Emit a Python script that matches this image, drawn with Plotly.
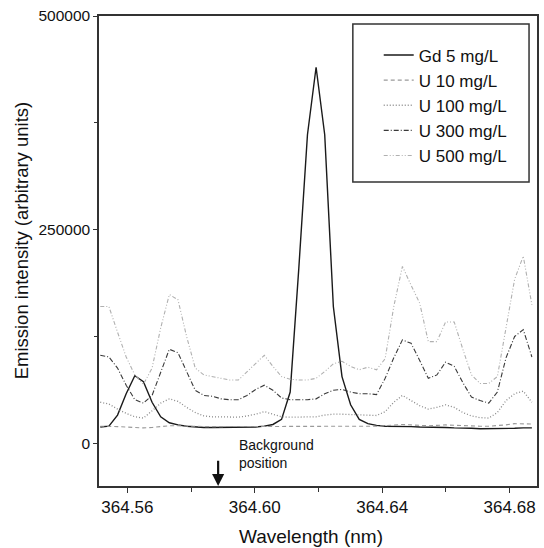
import plotly.graph_objects as go

wavelength = [364.55150, 364.55421, 364.55692, 364.55963, 364.56234, 364.56505, 364.56776,
              364.57047, 364.57318, 364.57589, 364.57860, 364.58131, 364.58402, 364.58673,
              364.58944, 364.59215, 364.59486, 364.59757, 364.60028, 364.60299, 364.60570,
              364.60841, 364.61112, 364.61383, 364.61654, 364.61925, 364.62196, 364.62467,
              364.62738, 364.63009, 364.63280, 364.63551, 364.63822, 364.64093, 364.64364,
              364.64635, 364.64906, 364.65177, 364.65448, 364.65719, 364.65990, 364.66261,
              364.66532, 364.66803, 364.67074, 364.67345, 364.67616, 364.67887, 364.68158,
              364.68429, 364.68700]

gd_5 = [19000, 20000, 33000, 58000, 79000, 72000, 48000, 31000, 24000, 21500, 20000,
        19000, 18500, 18500, 18500, 18500, 18500, 18500, 19000, 20000, 22000, 28000,
        60000, 205000, 361000, 440000, 361000, 160000, 78000, 45000, 28000, 23000, 21000,
        20000, 20000, 19500, 19500, 19000, 19000, 18500, 18500, 18000, 18000, 17500,
        17000, 17000, 17000, 17000, 17500, 18000, 18000]

u_10 = [20000, 20000, 19500, 19000, 18500, 18000, 18500, 19500, 20500, 20500, 20000,
        19500, 19500, 19500, 19500, 19500, 19500, 19500, 19500, 20000, 20000, 19500,
        19500, 19500, 19500, 19500, 19500, 19500, 20000, 20000, 20000, 20000, 20000,
        20500, 21500, 22000, 21500, 21000, 20500, 21000, 21500, 21000, 20500, 20000,
        20000, 20000, 20500, 21500, 23000, 23000, 22500]

u_100 = [48000, 46000, 40000, 35000, 31000, 29500, 38000, 47000, 52000, 49000, 42000,
         36000, 32000, 31000, 31000, 30500, 30500, 32000, 34000, 37000, 34000, 31000,
         30500, 30500, 30500, 31000, 33000, 34000, 34000, 33500, 33000, 32500, 32500,
         37000, 48000, 56000, 50000, 44000, 40000, 42000, 45000, 42000, 36000, 32000,
         30000, 29500, 36000, 50000, 58000, 61000, 48000]

u_300 = [103000, 101000, 88000, 68000, 51000, 47000, 56000, 84000, 110000, 106000, 84000,
         62000, 56000, 55000, 52000, 51000, 51000, 56000, 63000, 68000, 62000, 53000,
         51000, 51000, 51000, 52000, 58000, 62000, 63000, 60000, 58000, 58000, 57000,
         76000, 100000, 121000, 117000, 97000, 76000, 80000, 95000, 90000, 71000, 54000,
         50000, 47000, 60000, 100000, 125000, 133000, 101000]

u_500 = [160000, 160000, 130000, 101000, 80000, 69000, 88000, 135000, 174000, 168000, 125000,
         88000, 80000, 78000, 76000, 74000, 74000, 84000, 94000, 103000, 90000, 78000,
         75000, 74000, 74000, 76000, 84000, 93000, 96000, 90000, 86000, 89000, 86000,
         99000, 160000, 207000, 185000, 164000, 119000, 119000, 142000, 142000, 110000, 80000,
         70000, 70000, 78000, 135000, 192000, 219000, 162000]

series_names = ["Gd 5 mg/L", "U 10 mg/L", "U 100 mg/L", "U 300 mg/L", "U 500 mg/L"]
series_values = [gd_5, u_10, u_100, u_300, u_500]

y_tick_values = [0, 250000, 500000]
y_tick_labels = ["0", "250000", "500000"]
x_tick_values = [364.56, 364.60, 364.64, 364.68]
x_tick_labels = ["364.56", "364.60", "364.64", "364.68"]

styles = [
    dict(color="#1a1a1a", width=1.4, dash="solid"),
    dict(color="#9a9a9a", width=1.1, dash="4px,3px"),
    dict(color="#8a8a8a", width=1.3, dash="1px,2px"),
    dict(color="#3a3a3a", width=1.1, dash="5px,2px,1px,2px"),
    dict(color="#b0b0b0", width=1.1, dash="4px,2px,1px,2px,1px,2px"),
]

FONT = "Liberation Sans, Arial, sans-serif"

fig = go.Figure()
for name, vals, st in zip(series_names, series_values, styles):
    fig.add_trace(go.Scatter(x=wavelength, y=vals, mode="lines", name=name,
                             line=st))

W, H = 544, 548
ml, mr, mt, mb = 99, 5, 16, 62
pw, ph = W - ml - mr, H - mt - mb


def px_to_paper(px, py):
    return (px - ml) / pw, (H - mb - py) / ph


lx0, ly0 = px_to_paper(354, 182)
lx1, ly1 = px_to_paper(531, 24)
legx, legy = px_to_paper(380, 37.5)

fig.update_layout(
    width=W, height=H,
    margin=dict(l=ml, r=mr, t=mt, b=mb),
    paper_bgcolor="white", plot_bgcolor="white",
    font=dict(family=FONT, color="#111", size=17),
    showlegend=True,
    legend=dict(x=legx, y=legy, xanchor="left", yanchor="top",
                bgcolor="rgba(0,0,0,0)", borderwidth=0,
                font=dict(size=17, family=FONT, color="#111")),
    xaxis=dict(range=[364.5511, 364.6886], showgrid=False, zeroline=False,
               showline=True, mirror=True, linecolor="#333", linewidth=1.5,
               ticks="outside", ticklen=5, tickcolor="#333", tickwidth=1.2,
               tickvals=x_tick_values, ticktext=x_tick_labels,
               tickfont=dict(size=17),
               minor=dict(ticks="outside", ticklen=4, dtick=0.02, tick0=364.56,
                          tickcolor="#333", tickwidth=1.2)),
    yaxis=dict(range=[-50000, 500000], showgrid=False, zeroline=False,
               showline=True, mirror=True, linecolor="#333", linewidth=1.5,
               ticks="outside", ticklen=4, tickcolor="#333", tickwidth=1.2,
               tickvals=y_tick_values, ticktext=y_tick_labels,
               tickfont=dict(size=15.5),
               minor=dict(ticks="outside", ticklen=3, dtick=125000, tick0=0,
                          tickcolor="#333", tickwidth=1.2)),
    shapes=[dict(type="rect", xref="paper", yref="paper", x0=lx0, x1=lx1,
                 y0=ly0, y1=ly1, line=dict(color="#333", width=1.5))],
)

ytx, yty = px_to_paper(21, 240)
xtx, xty = px_to_paper(312, 536)
fig.add_annotation(text="Emission intensity (arbitrary units)", xref="paper", yref="paper",
                   x=ytx, y=yty, textangle=-90, showarrow=False,
                   xanchor="center", yanchor="middle", font=dict(size=18.5, family=FONT))
fig.add_annotation(text="Wavelength (nm)", xref="paper", yref="paper",
                   x=xtx, y=xty, showarrow=False,
                   xanchor="center", yanchor="middle", font=dict(size=19, family=FONT))

fig.add_annotation(text="Background<br>position", x=364.5945, y=-12000,
                   xanchor="left", yanchor="middle", align="left", showarrow=False,
                   font=dict(size=14, family=FONT))
fig.add_annotation(x=364.5885, y=-50000, ax=364.5885, ay=-18600,
                   xref="x", yref="y", axref="x", ayref="y", text="",
                   showarrow=True, arrowhead=2, arrowsize=1.1, arrowwidth=2.2,
                   arrowcolor="#111")

fig.write_html("out.html", config={"displayModeBar": False},
               post_script="document.body.style.margin='0px';")
